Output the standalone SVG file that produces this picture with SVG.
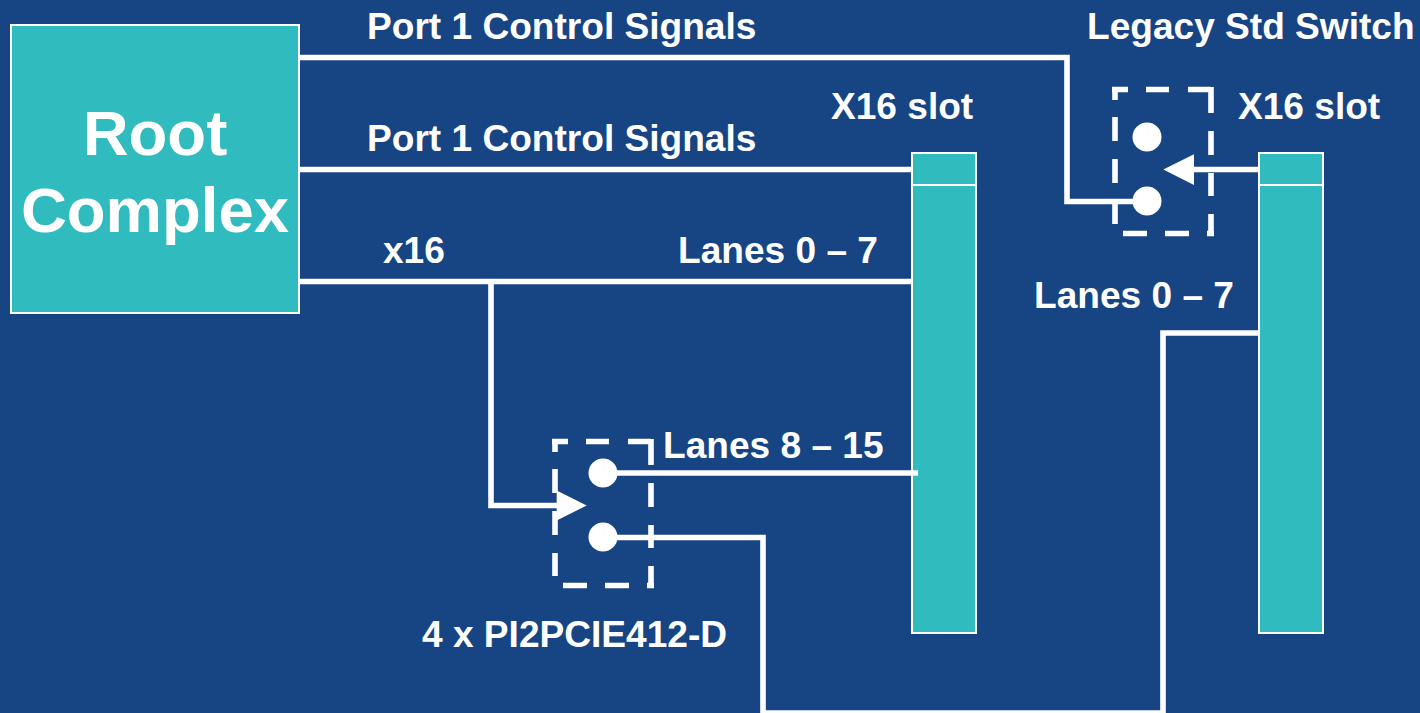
<svg xmlns="http://www.w3.org/2000/svg" width="1420" height="713" viewBox="0 0 1420 713">
<style>
.w{fill:none;stroke:#fff;stroke-width:5.6}
.d{fill:none;stroke:#fff;stroke-width:5.6}
.b{fill:#30bbbe;stroke:#fff;stroke-width:2}
.t{font-family:"Liberation Sans",Arial,sans-serif;font-weight:700;font-size:37.1px;fill:#fff}
.big{font-family:"Liberation Sans",Arial,sans-serif;font-weight:700;font-size:63.5px;fill:#fff;text-anchor:middle}
</style>
<defs>
<path id="dash" class="d" d="M1112 89.500H1128M1146 89.500H1169M1188 89.500H1211M1211 87V113M1211 131V155M1211 173V196M1211 214V236M1123 233.500H1147M1165 233.500H1189M1207 233.500H1214M1115 87V100M1115 117V141M1115 159V183M1115 201V224"/>
</defs>
<rect width="1420" height="713" fill="#174483"/>
<g id="root"><rect class="b" x="11" y="25" width="288" height="288"/><text class="big" x="155" y="154.500">Root</text><text class="big" x="155" y="231.500">Complex</text></g>
<g id="slot1"><rect class="b" x="912" y="153" width="64" height="480"/><path d="M912 185H976" stroke="#fff" stroke-width="2"/></g>
<g id="slot2"><rect class="b" x="1259" y="153" width="64" height="480"/><path d="M1259 185H1323" stroke="#fff" stroke-width="2"/></g>
<g id="switch1"><use href="#dash"/><circle cx="1147" cy="137" r="14.500" fill="#fff"/><circle cx="1147" cy="201" r="14.500" fill="#fff"/></g>
<g id="switch2"><use href="#dash" x="-560" y="352"/><circle cx="603" cy="473" r="14.500" fill="#fff"/><circle cx="603" cy="537" r="14.500" fill="#fff"/></g>
<g id="connectors">
<path class="w" d="M299 57.500H1067V201.500H1147"/>
<path class="w" d="M299 169.500H913"/>
<path class="w" d="M299 281.500H913"/>
<path class="w" d="M491 281.500V505.500H560"/>
<path class="w" d="M603 473H918"/>
<path class="w" d="M603 537.500H763V713H1163V333H1259"/>
<path class="w" d="M1259 169.500H1190"/>
<polygon points="586.700,505.500 556.700,490.500 556.700,520.500" fill="#fff"/>
<polygon points="1163.300,169.500 1194,154.300 1194,185" fill="#fff"/>
</g>
<g id="labels">
<text class="t" x="367" y="39.300">Port 1 Control Signals</text>
<text class="t" x="367" y="151.300">Port 1 Control Signals</text>
<text class="t" x="383" y="263.300">x16</text>
<text class="t" x="678" y="263.300">Lanes 0 – 7</text>
<text class="t" x="831" y="119.300">X16 slot</text>
<text class="t" x="1087" y="39.300">Legacy Std Switch</text>
<text class="t" x="1238" y="119.300">X16 slot</text>
<text class="t" x="1034" y="308">Lanes 0 – 7</text>
<text class="t" x="663" y="458">Lanes 8 – 15</text>
<text class="t" x="422" y="647">4 x PI2PCIE412-D</text>
</g>
</svg>
